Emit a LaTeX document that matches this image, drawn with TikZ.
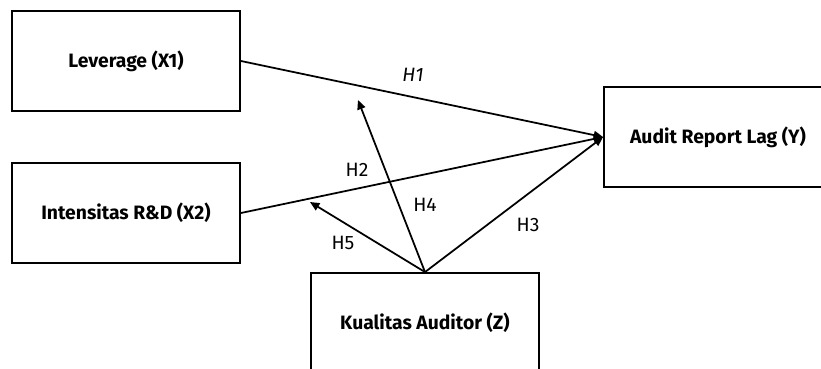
\documentclass[tikz,border=0pt]{standalone}
\usepackage{fontspec}
\setmainfont{Fira Sans}
\usetikzlibrary{arrows.meta}
\tikzset{
  varbox/.style={draw,line width=1.6pt,minimum width=6.84cm,minimum height=3cm,
    font=\fontsize{16.5}{19}\selectfont\bfseries},
  hyp/.style={font=\fontsize{16.5}{19}\selectfont},
  path/.style={line width=1.5pt,-{Triangle[length=8pt,width=7pt]}}
}
\begin{document}
\begin{tikzpicture}[x=0.03cm,y=-0.03cm]
        \useasboundingbox (0,0) rectangle (821,369);
        \node[varbox] (lev) at (126,61) {Leverage (X1)};
        \node[varbox] (rnd) at (126,213) {Intensitas R\&D (X2)};
        \node[varbox] (arl) at (718,137) {Audit Report Lag (Y)};
        \node[varbox] (kua) at (425,323) {Kualitas Auditor (Z)};
        \coordinate (m1) at (358,100);
        \coordinate (m2) at (310,202);
        \draw[path] (lev.east) -- (arl.west);
        \draw[path] (rnd.east) -- (arl.west);
        \draw[path] (kua.north) -- (arl.west);
        \draw[path] (kua.north) -- (m1);
        \draw[path] (kua.north) -- (m2);
        \node[hyp] (h1) at (413,75) {\itshape H1};
        \node[hyp] (h2) at (357,170) {H2};
        \node[hyp] (h3) at (528,225) {H3};
        \node[hyp] (h4) at (425,205) {H4};
        \node[hyp] (h5) at (343,243) {H5};
\end{tikzpicture}
\end{document}
